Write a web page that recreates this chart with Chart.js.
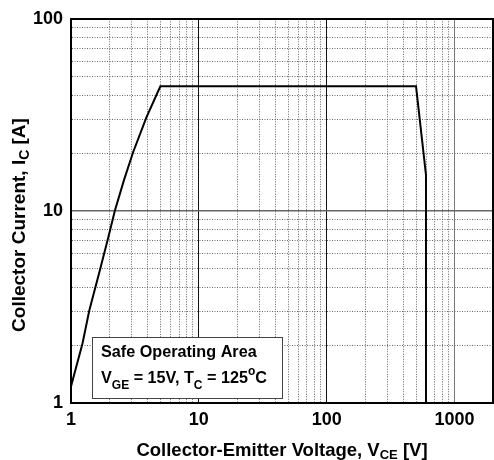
<!DOCTYPE html>
<html>
<head>
<meta charset="utf-8">
<script src="https://cdn.jsdelivr.net/npm/chart.js@4.4.0/dist/chart.umd.min.js"></script>
<style>
  html, body { margin: 0; background: #fff; }
  #wrap { width: 494px; height: 460px; position: relative; }
</style>
</head>
<body>
<div id="wrap"><canvas id="soa"></canvas></div>
<script>
// SOA boundary
const vce = [1, 1.23, 1.39, 1.68, 1.95, 2.2, 2.6, 3.06, 3.89, 5, 500, 598, 598];
const ic  = [1.22, 2.04, 3.03, 4.9, 7.2, 10, 14.5, 20.2, 30.7, 44.5, 44.5, 15.4, 1];

const xTicks = [1, 2, 3, 4, 5, 6, 7, 8, 9, 10, 20, 30, 40, 50, 60, 70, 80, 90,
                100, 200, 300, 400, 500, 600, 700, 800, 900, 1000, 2000];
const yTicks = [1, 2, 3, 4, 5, 6, 7, 8, 9, 10, 20, 30, 40, 50, 60, 70, 80, 90, 100];
const xLabels = [1, 10, 100, 1000];
const yLabels = [1, 10, 100];
const xMajor = [10, 100, 1000];
const yMajor = [10];

const FONT = '"Liberation Sans", Arial, Helvetica, sans-serif';

// draws text with sub/superscript parts
function drawRich(ctx, parts, x, y, size, align, subDrop) {
    const fontOf = p => `bold ${p.sub || p.sup ? Math.round(size * 0.72) : size}px ${FONT}`;
    let total = 0;
    parts.forEach(p => { ctx.font = fontOf(p); total += ctx.measureText(p.t).width; });
    let cx = align === 'center' ? x - total / 2 : x;
    ctx.textAlign = 'left';
    ctx.textBaseline = 'alphabetic';
    parts.forEach(p => {
        ctx.font = fontOf(p);
        let dy = 0;
        if (p.sub) dy = size * (subDrop || 0.28);
        if (p.sup) dy = -size * 0.5;
        ctx.fillText(p.t, cx, y + dy);
        cx += ctx.measureText(p.t).width;
    });
}

const annotations = {
    id: 'annotations',
    afterDraw(chart) {
        const { ctx, chartArea } = chart;
        ctx.save();
        ctx.fillStyle = '#000';

        // axis titles
        drawRich(ctx, [{ t: 'Collector-Emitter Voltage, V' }, { t: 'CE', sub: true }, { t: ' [V]' }],
            (chartArea.left + chartArea.right) / 2, 456, 18.5, 'center', 0.18);

        ctx.save();
        ctx.translate(25, 225);
        ctx.rotate(-Math.PI / 2);
        drawRich(ctx, [{ t: 'Collector Current, I' }, { t: 'C', sub: true }, { t: ' [A]' }], 0, 0, 19, 'center', 0.22);
        ctx.restore();

        // info box
        const bx = chartArea.left + 21, by = chartArea.bottom - 66, bw = 190, bh = 61;
        ctx.fillStyle = '#fff';
        ctx.fillRect(bx, by, bw, bh);
        ctx.strokeStyle = '#444';
        ctx.lineWidth = 1;
        ctx.strokeRect(bx + 0.5, by + 0.5, bw, bh);
        ctx.fillStyle = '#000';
        drawRich(ctx, [{ t: 'Safe Operating Area' }], bx + 9, by + 20, 16.2, 'left');
        drawRich(ctx, [{ t: 'V' }, { t: 'GE', sub: true }, { t: ' = 15V, T' }, { t: 'C', sub: true },
            { t: ' = 125' }, { t: 'o', sup: true }, { t: 'C' }], bx + 9, by + 46, 16.2, 'left', 0.36);
        ctx.restore();
    }
};

const tickFont = { family: FONT, size: 18, weight: 'bold' };
const dotColor = '#666';

new Chart(document.getElementById('soa'), {
    type: 'scatter',
    data: {
        datasets: [{
            data: vce.map((v, i) => ({ x: v, y: ic[i] })),
            showLine: true,
            borderColor: '#000',
            borderWidth: 2,
            pointRadius: 0,
            tension: 0,
            xAxisID: 'x',
            yAxisID: 'y'
        }]
    },
    options: {
        responsive: true,
        maintainAspectRatio: false,
        animation: false,
        events: [],
        layout: { padding: { top: 18, right: 1, left: 0, bottom: 0 } },
        plugins: { legend: { display: false }, tooltip: { enabled: false } },
        scales: {
            x: {
                type: 'logarithmic',
                position: 'bottom',
                min: 1,
                max: 2000,
                afterBuildTicks: s => { s.ticks = xTicks.map(v => ({ value: v })); },
                afterFit: s => { s.height = 57; s.paddingLeft = 0; s.paddingRight = 0; },
                ticks: {
                    autoSkip: false,
                    maxRotation: 0,
                    padding: 6,
                    color: '#000',
                    font: tickFont,
                    callback: v => xLabels.includes(v) ? String(v) : ''
                },
                grid: {
                    drawTicks: false,
                    lineWidth: 1,
                    color: c => (c.tick && (xMajor.includes(c.tick.value) || c.tick.value === 2000)) ? 'rgba(0,0,0,0)' : dotColor
                },
                border: { color: '#000', width: 2, dash: [1, 1.5] }
            },
            xTop: {
                type: 'logarithmic',
                axis: 'x',
                position: 'top',
                min: 1,
                max: 2000,
                afterBuildTicks: s => { s.ticks = xMajor.map(v => ({ value: v })); },
                afterFit: s => { s.height = 0; s.paddingLeft = 0; s.paddingRight = 0; },
                ticks: { display: false },
                grid: {
                    drawTicks: false,
                    lineWidth: 1,
                    color: c => (c.tick && c.tick.value === 1000) ? '#777' : '#111'
                },
                border: { color: '#000', width: 2 }
            },
            y: {
                type: 'logarithmic',
                position: 'left',
                min: 1,
                max: 100,
                afterBuildTicks: s => { s.ticks = yTicks.map(v => ({ value: v })); },
                afterFit: s => { s.width = 71; },
                ticks: {
                    autoSkip: false,
                    padding: 8,
                    color: '#000',
                    font: tickFont,
                    callback: v => yLabels.includes(v) ? String(v) : ''
                },
                grid: {
                    drawTicks: false,
                    lineWidth: 1,
                    color: c => (c.tick && (yMajor.includes(c.tick.value) || c.tick.value === 100)) ? 'rgba(0,0,0,0)' : dotColor
                },
                border: { color: '#000', width: 2, dash: [1, 1.5] }
            },
            yRight: {
                type: 'logarithmic',
                axis: 'y',
                position: 'right',
                min: 1,
                max: 100,
                afterBuildTicks: s => { s.ticks = yMajor.map(v => ({ value: v })); },
                afterFit: s => { s.width = 0; },
                ticks: { display: false },
                grid: { drawTicks: false, lineWidth: 1.5, color: '#666' },
                border: { color: '#000', width: 2 }
            }
        }
    },
    plugins: [annotations]
});
</script>
</body>
</html>
